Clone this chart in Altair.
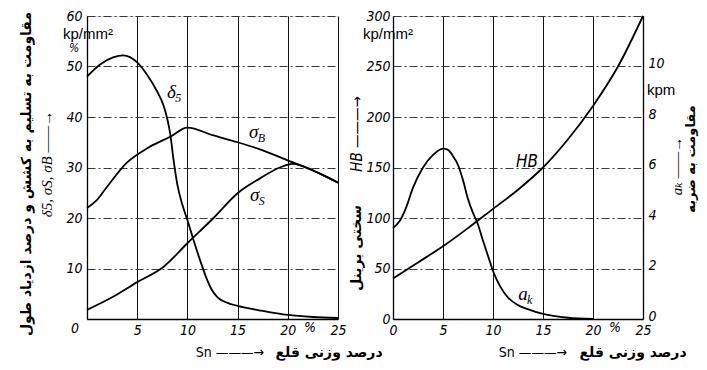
import altair as alt
import pandas as pd

# ---------------- data ----------------
# Left panel: tensile properties vs Sn (weight %)
d5_x = [0, 1.3, 2.6, 3.6, 5, 6, 7, 7.6, 8, 8.3, 8.6, 9, 9.5, 10, 10.6, 11.2, 11.8, 12.4, 13, 14, 15, 17.5, 20, 22.5, 25]
d5_y = [48, 50.4, 51.8, 52.2, 50.8, 48.3, 45.0, 42.4, 39.6, 36.5, 31.8, 26.6, 22.6, 19.6, 15.7, 12, 8.6, 5.9, 4.3, 3.2, 2.6, 1.6, 0.8, 0.4, 0.2]

sb_x = [0, 1, 2, 4, 6, 8.3, 10, 12.5, 15, 17.5, 20.5, 22, 23.5, 25]
sb_y = [22, 23.6, 26.2, 31, 33.8, 36.1, 37.9, 36.4, 35, 33.4, 31, 29.8, 28.5, 27]

ss_x = [0, 2.5, 5, 7.6, 10, 12.6, 15, 17.2, 19.2, 20.5, 22, 23.5, 25]
ss_y = [1.8, 4.3, 7.3, 10.3, 15, 20, 24.9, 27.8, 30, 30.7, 29.9, 28.5, 27]

# Right panel: Brinell hardness (kp/mm2) and impact strength a_K (kpm)
hb_x = [0, 2.5, 5, 7.5, 10, 12.5, 15, 17.5, 20, 22.5, 25]
hb_y = [40, 56, 72, 90, 109, 128, 150, 178, 211, 250, 300]

ak_x = [0, 0.7, 1.3, 2, 3, 4, 5, 5.5, 6, 6.5, 7, 7.5, 8, 8.4, 9, 9.5, 10, 10.7, 11.5, 12.5, 13.4, 15, 17.5, 20]
ak_y = [3.6, 3.9, 4.4, 5.2, 6.0, 6.5, 6.75, 6.7, 6.45, 6.1, 5.5, 4.75, 4.2, 3.85, 3.1, 2.5, 1.9, 1.3, 0.85, 0.55, 0.4, 0.2, 0.05, 0.0]

x_ticks = [0, 5, 10, 15, 20, 25]
left_y_ticks = [0, 10, 20, 30, 40, 50, 60]
hb_ticks = [0, 50, 100, 150, 200, 250, 300]
ak_ticks = [0, 2, 4, 6, 8, 10]

# ---------------- styling ----------------
NUM_FONT = "Liberation Sans Narrow, DejaVu Sans Condensed, Liberation Sans, sans-serif"
UNIT_FONT = "Liberation Sans"
FA_FONT = "DejaVu Sans"
GREEK_FONT = "Liberation Serif, DejaVu Serif, serif"
W, H = 251, 303
LINE = dict(color="black", strokeWidth=1.8, interpolate="monotone")


def x_axis(hide_zero):
    kw = dict(values=x_ticks, title=None, grid=True, gridColor="#111", gridWidth=1,
              domainColor="#000", domainWidth=1.3, ticks=False, labelFont=NUM_FONT,
              labelFontStyle="italic", labelFontSize=14, labelColor="#000",
              labelPadding=4, labelFlush=False, labelOverlap=False, labelBound=False)
    if hide_zero:
        kw["labelExpr"] = "datum.value == 0 ? '' : datum.label"
    return alt.Axis(**kw)


def y_axis(values, hide_zero, pad):
    kw = dict(values=values, title=None, grid=True, gridColor="#222", gridWidth=0.9,
              gridDash=[8, 3, 2, 3], domainColor="#000", domainWidth=1.3, ticks=False,
              labelFont=NUM_FONT, labelFontStyle="italic", labelFontSize=14,
              labelColor="#000", labelPadding=pad, labelFlush=False, labelOverlap=False,
              labelBound=False)
    if hide_zero:
        kw["labelExpr"] = "datum.value == 0 ? '' : datum.label"
    return alt.Axis(**kw)


def curve(xs, ys, xscale, yscale, xax, yax):
    df = pd.DataFrame({"x": xs, "y": ys})
    return alt.Chart(df).mark_line(**LINE).encode(
        x=alt.X("x:Q", scale=xscale, axis=xax),
        y=alt.Y("y:Q", scale=yscale, axis=yax),
    )


def note(text, px, py, size=14, font=FA_FONT, angle=0, weight="normal", style="normal", align="center"):
    df = pd.DataFrame({"t": [text]})
    return alt.Chart(df).mark_text(font=font, fontSize=size, angle=angle, fontWeight=weight,
                                   fontStyle=style, align=align, baseline="middle",
                                   color="black").encode(
        x=alt.value(px), y=alt.value(py), text="t:N")


def curve_label(main, sub, xv, yv, font=GREEK_FONT, size=19):
    df = pd.DataFrame({"a": [0]})
    out = [alt.Chart(df).mark_text(text=main, font=font, fontSize=size, fontStyle="italic",
                                   align="center", baseline="middle", color="black").encode(
        x=alt.datum(xv), y=alt.datum(yv))]
    if sub:
        out.append(alt.Chart(df).mark_text(text=sub, font=font, fontSize=12, fontStyle="italic",
                                           align="left", baseline="middle", dx=4, dy=6,
                                           color="black").encode(
            x=alt.datum(xv), y=alt.datum(yv)))
    return out


# ---------------- left panel ----------------
xs_l = alt.Scale(domain=[0, 25], nice=False, zero=False)
ys_l = alt.Scale(domain=[0, 60], nice=False)
xa_l = x_axis(True)
ya_l = y_axis(left_y_ticks, True, 5)

left_layers = [
    curve(d5_x, d5_y, xs_l, ys_l, xa_l, ya_l),
    curve(sb_x, sb_y, xs_l, ys_l, xa_l, ya_l),
    curve(ss_x, ss_y, xs_l, ys_l, xa_l, ya_l),
]
left_layers += curve_label("δ", "5", 8.4, 45.0)
left_layers += curve_label("σ", "B", 16.6, 37.0)
left_layers += curve_label("σ", "S", 16.7, 24.5)
left_layers += [
    note("مقاومت به تسلیم به کشش و درصد ازدیاد طول", -60, 158, size=14, angle=270, weight="bold"),
    note("δ5, σS, σB ——→", -40, 148, size=15, font=GREEK_FONT, angle=270, style="italic"),
    note("kp/mm²", 1, 18, size=15, font=UNIT_FONT),
    note("%", -13, 32, size=12, font=NUM_FONT, style="italic"),
    note("0", -12, 313, size=14, font=NUM_FONT, style="italic"),
    note("%", 223, 312, size=14, font=NUM_FONT, style="italic"),
    note("Sn ———→", 143, 337, size=14, font=NUM_FONT),
    note("درصد وزنی قلع", 242, 337, size=14, weight="bold"),
]
left = alt.layer(*left_layers).properties(width=W, height=H)

# ---------------- right panel ----------------
xs_r = alt.Scale(domain=[0, 25], nice=False, zero=False)
ys_hb = alt.Scale(domain=[0, 300], nice=False)
ys_ak = alt.Scale(domain=[0, 12], nice=False)
xa_r = x_axis(False)
ya_hb = y_axis(hb_ticks, False, 3)
ya_ak = alt.Axis(values=ak_ticks, orient="right", title=None, grid=False, domainColor="#000",
                 domainWidth=1.3, ticks=False, labelFont=NUM_FONT, labelFontStyle="italic",
                 labelFontSize=14, labelColor="#000", labelPadding=5, labelFlush=False,
                 labelOverlap=False, labelBound=False, labelOffset=-3)

hb_layers = [curve(hb_x, hb_y, xs_r, ys_hb, xa_r, ya_hb)]
hb_layers += curve_label("HB", "", 13.4, 155, font=NUM_FONT, size=17)
hb_layers += [
    note("kp/mm²", -5, 18, size=15, font=UNIT_FONT),
    note("HB ———→", -36, 118, size=15, font=NUM_FONT, angle=270, style="italic"),
    note("سختی برینل", -36, 232, size=14, angle=270, weight="bold"),
    note("%", 222, 312, size=14, font=NUM_FONT, style="italic"),
    note("kpm", 254, 74, size=15, font=UNIT_FONT, align="left"),
    note("aₖ ——→", 284, 150, size=15, font=GREEK_FONT, angle=270, style="italic"),
    note("مقاومت به ضربه", 298, 143, size=13, angle=270, weight="bold"),
    note("Sn ———→", 140, 337, size=14, font=NUM_FONT),
    note("درصد وزنی قلع", 240, 337, size=14, weight="bold"),
]
ak_layers = [curve(ak_x, ak_y, xs_r, ys_ak, xa_r, ya_ak)]
ak_layers += curve_label("a", "k", 13.0, 1.0)

right = alt.layer(alt.layer(*hb_layers), alt.layer(*ak_layers)).resolve_scale(
    y="independent").properties(width=W - 1, height=H)

chart = alt.hconcat(left, right, spacing=55, bounds="flush").properties(
    padding={"left": 11, "top": 0, "right": 0, "bottom": 0}
).configure_view(stroke=None).configure(background="white")

chart.save("out.html", embed_options={"renderer": "svg", "actions": False})
